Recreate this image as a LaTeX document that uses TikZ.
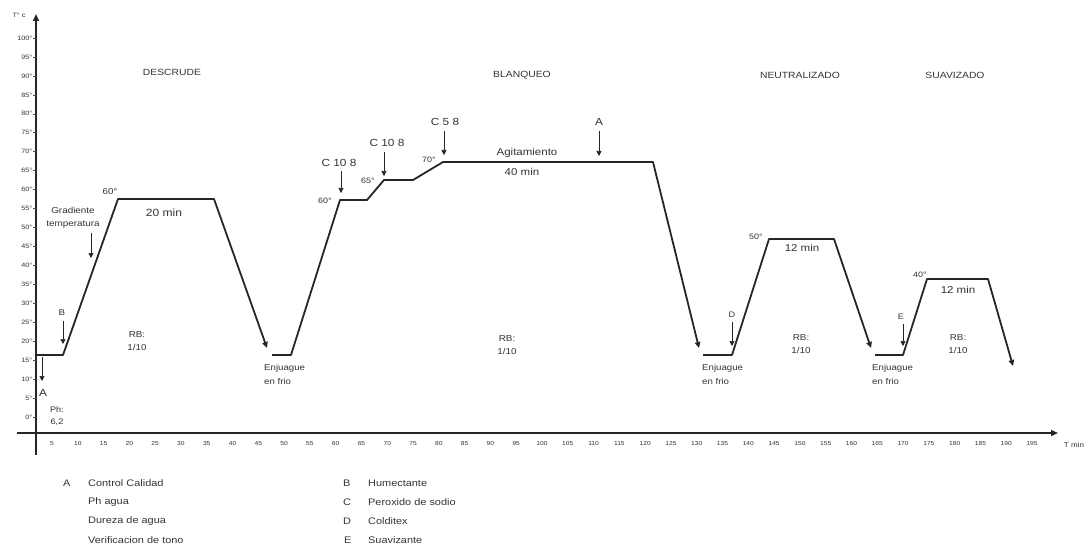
\documentclass[tikz,border=0pt]{standalone}
\usepackage{fontspec}
\setmainfont[FakeStretch=1.15]{Liberation Sans}
\usetikzlibrary{arrows.meta}
\newcommand{\fs}[1]{\fontsize{#1}{#1}\selectfont}
\begin{document}
\begin{tikzpicture}[x=1pt,y=-1pt,
  curve/.style={line width=1.8pt, line join=round, black!85},
  endarrow/.style={curve, -{Triangle[length=6pt,width=5.5pt]}},
  axis/.style={line width=1.8pt, black!85, -{Triangle[length=7pt,width=6pt]}},
  marker/.style={line width=0.7pt, black!85, -{Triangle[length=5pt,width=5pt]}},
  txt/.style={inner sep=0pt, text=black!80, font=\fs{8}},
  small/.style={txt, font=\fs{6.3}},
  tick/.style={txt, font=\fs{5.8}},
  temp/.style={txt, font=\fs{7.8}},
  mins/.style={txt, font=\fs{10}},
  big/.style={txt, font=\fs{10.3}},
  phase/.style={txt, font=\fs{9}},
  two/.style={txt, align=center, font=\fontsize{8.6}{13}\selectfont},
  twol/.style={txt, align=left, anchor=west, font=\fontsize{8.4}{14}\selectfont},
  leg/.style={txt, anchor=west, font=\fs{9.5}}]
\useasboundingbox (0,0) rectangle (1089,548);

% axes
\coordinate (yb) at (36,455);
\coordinate (yt) at (36,14);
\coordinate (xl) at (17,433);
\coordinate (xr) at (1058,433);
\draw[axis] (yb) -- (yt);
\draw[axis] (xl) -- (xr);
\node[small] (ylab) at (19,15) {T° c};
\node[txt, font=\fs{7}] (xlab) at (1074,445) {T min};

% temperature scale
\foreach \k in {0,...,20}{
  \pgfmathtruncatemacro{\v}{100-5*\k}
  \pgfmathsetmacro{\yy}{38+18.95*\k}
  \draw[line width=0.5pt, black!70] (33,\yy) -- (36,\yy);
  \node[small, anchor=east] (yt\k) at (32.5,\yy) {\v°};
}
% time scale
\foreach \k in {1,...,39}{
  \pgfmathtruncatemacro{\v}{5*\k}
  \pgfmathsetmacro{\xx}{52+25.79*(\k-1)}
  \node[tick] (xt\k) at (\xx,444) {\v};
}

% phases
\node[phase] (p1) at (172,72) {DESCRUDE};
\node[phase] (p2) at (522,75) {BLANQUEO};
\node[phase] (p3) at (800,75) {NEUTRALIZADO};
\node[phase] (p4) at (955,75) {SUAVIZADO};

% descrude
\coordinate (a0) at (36,355);
\coordinate (a1) at (63,355);
\coordinate (a2) at (118,199);
\coordinate (a3) at (214,199);
\coordinate (a4) at (267,348);
\draw[endarrow] (a0) -- (a1) -- (a2) -- (a3) -- (a4);

% blanqueo
\coordinate (b0) at (272,355);
\coordinate (b1) at (291,355);
\coordinate (b2) at (340,200);
\coordinate (b3) at (367,200);
\coordinate (b4) at (384,180);
\coordinate (b5) at (413,180);
\coordinate (b6) at (443,162);
\coordinate (b7) at (653,162);
\coordinate (b8) at (699,348);
\draw[endarrow] (b0) -- (b1) -- (b2) -- (b3) -- (b4) -- (b5) -- (b6) -- (b7) -- (b8);

% neutralizado
\coordinate (c0) at (703,355);
\coordinate (c1) at (732,355);
\coordinate (c2) at (769,239);
\coordinate (c3) at (834,239);
\coordinate (c4) at (871,348);
\draw[endarrow] (c0) -- (c1) -- (c2) -- (c3) -- (c4);

% suavizado
\coordinate (d0) at (875,355);
\coordinate (d1) at (903,355);
\coordinate (d2) at (927,279);
\coordinate (d3) at (988,279);
\coordinate (d4) at (1013,366);
\draw[endarrow] (d0) -- (d1) -- (d2) -- (d3) -- (d4);

% additions
\node[big] (mA1) at (43,393) {A};
\coordinate (tA1) at (42,381);
\draw[marker] (42,357) -- (tA1);
\node[txt, align=center, font=\fontsize{8}{12}\selectfont] (ph) at (57,416) {Ph:\\6,2};

\node[txt, font=\fs{8.5}] (mB) at (62,313) {B};
\coordinate (tB) at (63,344);
\draw[marker] (63,321) -- (tB);

\node[txt, align=center, font=\fontsize{8.6}{13}\selectfont] (grad) at (73,218) {Gradiente\\temperatura};
\coordinate (tG) at (91,258);
\draw[marker] (91,233) -- (tG);

\node[big] (mC1) at (339,163) {C 10 8};
\coordinate (tC1) at (341,193);
\draw[marker] (341,171) -- (tC1);
\node[big] (mC2) at (387,143) {C 10 8};
\coordinate (tC2) at (384,176);
\draw[marker] (384,152) -- (tC2);
\node[big] (mC3) at (445,122) {C 5 8};
\coordinate (tC3) at (444,155);
\draw[marker] (444,131) -- (tC3);

\node[big] (mA2) at (599,122) {A};
\coordinate (tA2) at (599,156);
\draw[marker] (599,131) -- (tA2);

\node[txt, font=\fs{8}] (mD) at (732,315) {D};
\coordinate (tD) at (732,346);
\draw[marker] (732,322) -- (tD);
\node[txt, font=\fs{8}] (mE) at (901,317) {E};
\coordinate (tE) at (903,346);
\draw[marker] (903,324) -- (tE);

% temperatures and times
\node[txt, font=\fs{8.5}] (t60a) at (110,192) {60°};
\node[txt, font=\fs{10.5}] (m20) at (164,213) {20 min};
\node[temp] (t60b) at (325,201) {60°};
\node[temp] (t65) at (368,181) {65°};
\node[temp] (t70) at (429,160) {70°};
\node[mins] (agit) at (527,153) {Agitamiento};
\node[mins] (m40) at (522,172) {40 min};
\node[temp] (t50) at (756,237) {50°};
\node[mins] (m12a) at (802,248) {12 min};
\node[temp] (t40) at (920,275) {40°};
\node[mins] (m12b) at (958,290) {12 min};

% bath ratios
\node[two] (rb1) at (137,341) {RB:\\1/10};
\node[two] (rb2) at (507,345) {RB:\\1/10};
\node[two] (rb3) at (801,344) {RB:\\1/10};
\node[two] (rb4) at (958,344) {RB:\\1/10};

% rinses
\node[twol] (r1) at (264,374) {Enjuague\\en frio};
\node[twol] (r2) at (702,374) {Enjuague\\en frio};
\node[twol] (r3) at (872,374) {Enjuague\\en frio};

% legend
\node[leg] (lA) at (63,483) {A};
\node[leg] (lA1) at (88,483) {Control Calidad};
\node[leg] (lA2) at (88,502) {Ph agua};
\node[leg] (lA3) at (88,521) {Dureza de agua};
\node[leg] (lA4) at (88,540) {Verificacion de tono};
\node[leg] (lB) at (343,483) {B};
\node[leg] (lB1) at (368,483) {Humectante};
\node[leg] (lC) at (343,502) {C};
\node[leg] (lC1) at (368,502) {Peroxido de sodio};
\node[leg] (lD) at (343,521) {D};
\node[leg] (lD1) at (368,521) {Colditex};
\node[leg] (lE) at (344,540) {E};
\node[leg] (lE1) at (368,540) {Suavizante};
\end{tikzpicture}
\end{document}
